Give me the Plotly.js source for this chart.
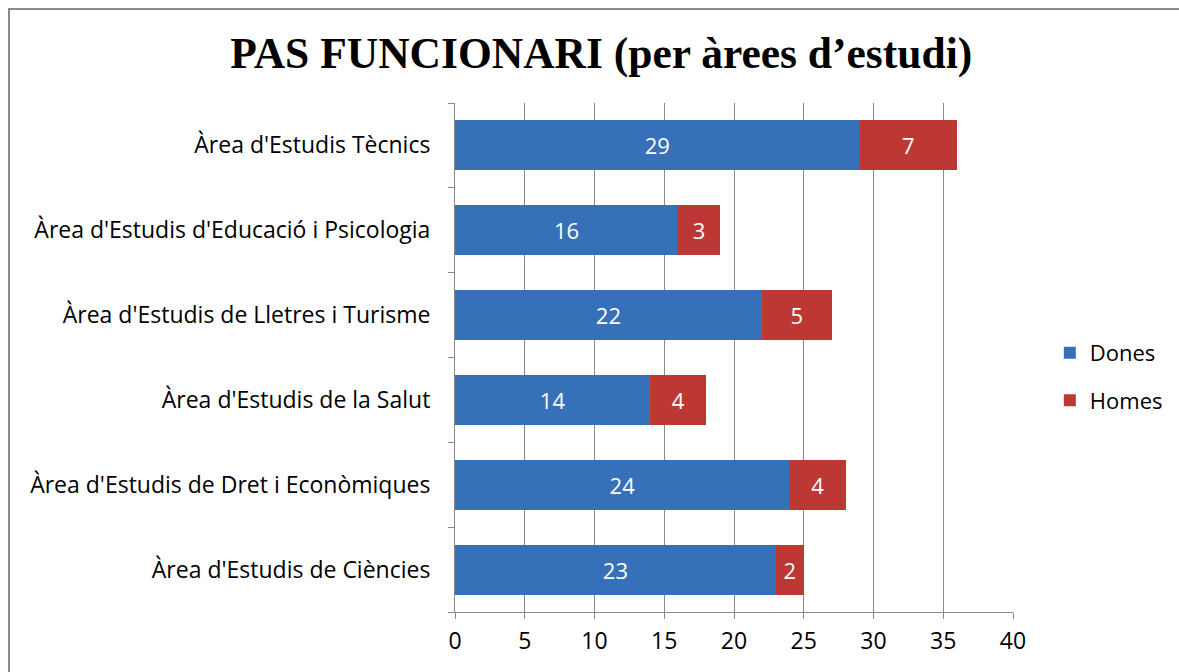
<!DOCTYPE html>
<html>
<head>
<meta charset="utf-8">
<script src="https://cdn.plot.ly/plotly-3.0.1.min.js"></script>
<style>
  html, body { margin: 0; padding: 0; background: #fff; overflow: hidden; }
  #frame { position: absolute; left: 8px; top: 8px; width: 1200px; height: 700px; border: 2px solid #8a8a8a; box-sizing: border-box; }
  #chart { position: absolute; left: 0; top: 0; width: 1179px; height: 672px; }
</style>
</head>
<body>
<div id="frame"></div>
<div id="chart"></div>
<script>
const categories = [
  "Àrea d'Estudis de Ciències",
  "Àrea d'Estudis de Dret i Econòmiques",
  "Àrea d'Estudis de la Salut",
  "Àrea d'Estudis de Lletres i Turisme",
  "Àrea d'Estudis d'Educació i Psicologia",
  "Àrea d'Estudis Tècnics"
];
const dones = [23, 24, 14, 22, 16, 29];
const homes = [2, 4, 4, 5, 3, 7];
const xTicks = [0, 5, 10, 15, 20, 25, 30, 35, 40];

const font = "'Open Sans', sans-serif";

const traces = [
  {
    type: 'bar', orientation: 'h', name: 'Dones', y: categories, x: dones,
    marker: { color: '#3670B8' },
    text: dones.map(String), textposition: 'inside', insidetextanchor: 'middle',
    textfont: { color: '#ffffff', size: 22, family: font },
    legendgroup: 'a', hoverinfo: 'x+name'
  },
  {
    type: 'bar', orientation: 'h', name: 'Homes', y: categories, x: homes,
    marker: { color: '#BD3735' },
    text: homes.map(String), textposition: 'inside', insidetextanchor: 'middle',
    textfont: { color: '#ffffff', size: 22, family: font },
    legendgroup: 'b', hoverinfo: 'x+name'
  }
];

const layout = {
  width: 1179, height: 672,
  paper_bgcolor: 'rgba(0,0,0,0)', plot_bgcolor: 'rgba(0,0,0,0)',
  margin: { l: 455, r: 166, t: 103, b: 60, autoexpand: false },
  barmode: 'stack', bargap: 0.41,
  uniformtext: { mode: false },
  title: {
    text: "<b>PAS FUNCIONARI (per àrees d’estudi)</b>",
    font: { family: "'Liberation Serif', 'Times New Roman', serif", size: 43.5, color: '#000' },
    x: 0.51, xanchor: 'center', y: 0.922, yanchor: 'middle'
  },
  xaxis: {
    range: [0, 40], tickvals: xTicks, ticktext: xTicks.map(String),
    showgrid: true, gridcolor: '#8a8a8a', gridwidth: 1,
    showline: true, linecolor: '#8a8a8a', linewidth: 1,
    ticks: 'outside', ticklen: 6, tickcolor: '#8a8a8a',
    tickfont: { family: font, size: 23, color: '#000' },
    ticklabelstandoff: 2,
    zeroline: false, fixedrange: true, automargin: false
  },
  yaxis: {
    type: 'category', categoryorder: 'array', categoryarray: categories,
    showline: true, linecolor: '#8a8a8a', linewidth: 1,
    ticks: 'outside', ticklen: 6, tickcolor: '#8a8a8a', tickson: 'boundaries',
    tickfont: { family: font, size: 23, color: '#000' },
    ticklabelstandoff: 19,
    showgrid: false, zeroline: false, fixedrange: true, automargin: false
  },
  legend: {
    x: 1.066, xanchor: 'left', y: 0.462, yanchor: 'middle',
    font: { family: font, size: 22, color: '#000' },
    traceorder: 'grouped', tracegroupgap: 16,
    itemwidth: 30, bgcolor: 'rgba(0,0,0,0)'
  },
  showlegend: true
};

Plotly.newPlot('chart', traces, layout, { displayModeBar: false, staticPlot: true });
</script>
</body>
</html>
